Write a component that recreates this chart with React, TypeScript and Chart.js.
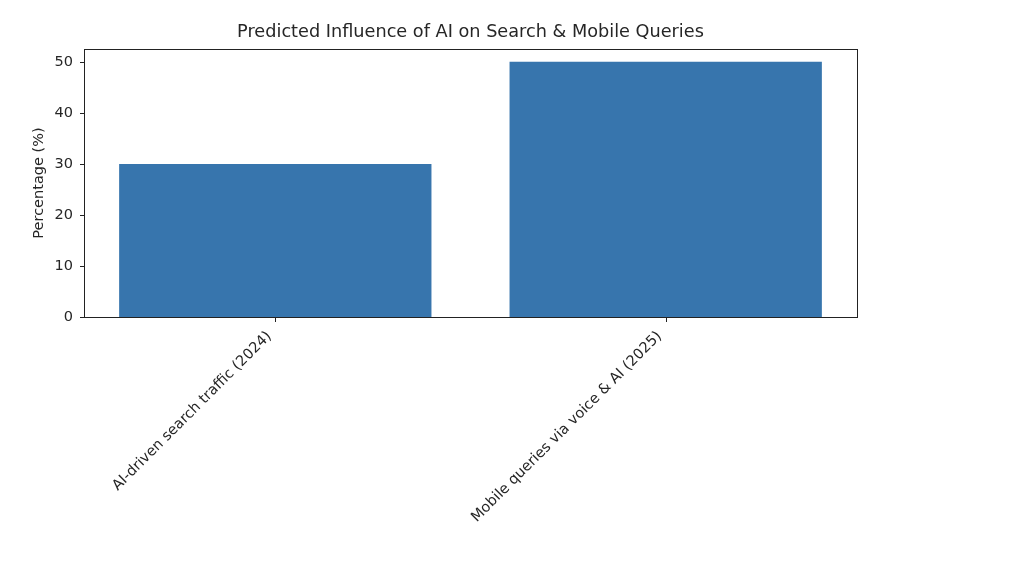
import React, { useEffect, useRef } from "react";
import { Chart, registerables } from "chart.js";

Chart.register(...registerables);

const categories = ["AI-driven search traffic (2024)", "Mobile queries via voice & AI (2025)"];
const values = [30, 50];
const yTicks = [0, 10, 20, 30, 40, 50];
const chartTitle = "Predicted Influence of AI on Search & Mobile Queries";
const yAxisTitle = "Percentage (%)";

const FONT = "'DejaVu Sans', sans-serif";
const TEXT = "#262626";

const framePlugin = {
  id: "frame",
  afterDatasetsDraw(chart: any) {
    const { ctx, chartArea, scales } = chart;
    const L = Math.round(chartArea.left) + 0.5;
    const T = Math.round(chartArea.top) + 0.5;
    const R = Math.round(chartArea.right) + 0.5;
    const B = Math.round(chartArea.bottom) + 0.5;
    ctx.save();
    ctx.strokeStyle = "#222";
    ctx.lineWidth = 1;
    ctx.strokeRect(L, T, R - L, B - T);
    ctx.beginPath();
    scales.x.ticks.forEach((t: any) => {
      const px = Math.round(scales.x.getPixelForValue(t.value)) + 0.5;
      ctx.moveTo(px, B);
      ctx.lineTo(px, B + 4.5);
    });
    scales.y.ticks.forEach((t: any) => {
      const py = Math.round(scales.y.getPixelForValue(t.value)) + 0.5;
      ctx.moveTo(L, py);
      ctx.lineTo(L - 4.5, py);
    });
    ctx.stroke();
    ctx.restore();
  },
};

export default function App() {
  const ref = useRef<HTMLCanvasElement>(null);

  useEffect(() => {
    if (!ref.current) return;
    const chart = new Chart(ref.current, {
      type: "bar",
      data: {
        datasets: [
          {
            data: values.map((v, i) => ({ x: i, y: v })),
            backgroundColor: "#3775ad",
            borderWidth: 0,
            barPercentage: 0.8,
            categoryPercentage: 1,
          },
        ],
      },
      options: {
        animation: false,
        responsive: true,
        maintainAspectRatio: false,
        layout: { padding: { left: 0, right: 167, top: 0, bottom: 0 } },
        plugins: {
          legend: { display: false },
          tooltip: { enabled: false },
          title: {
            display: true,
            text: chartTitle,
            fullSize: false,
            color: TEXT,
            font: { family: FONT, size: 17.7, weight: "normal" },
            padding: { top: 22, bottom: 5.8 },
          },
        },
        scales: {
          x: {
            type: "linear",
            min: -0.49,
            max: 1.49,
            offset: false,
            border: { display: false },
            grid: { display: false, offset: false, tickLength: 4 },
            afterBuildTicks: (scale: any) => {
              scale.ticks = categories.map((_, i) => ({ value: i }));
            },
            afterFit: (scale: any) => {
              scale.height = 251;
            },
            ticks: {
              autoSkip: false,
              minRotation: 45,
              maxRotation: 45,
              padding: 7,
              labelOffset: -6,
              color: TEXT,
              font: { family: FONT, size: 14.5 },
              callback: (v: any) => categories[Math.round(Number(v))] ?? "",
            },
          },
          y: {
            min: 0,
            max: 52.5,
            border: { display: false },
            grid: { display: false, tickLength: 4 },
            afterBuildTicks: (scale: any) => {
              scale.ticks = yTicks.map((v) => ({ value: v }));
            },
            afterFit: (scale: any) => {
              scale.width = 84;
            },
            ticks: {
              padding: 7,
              color: TEXT,
              font: { family: FONT, size: 14.5 },
              callback: (v: any) => String(v),
            },
            title: {
              display: true,
              text: yAxisTitle,
              color: TEXT,
              font: { family: FONT, size: 14.5 },
              padding: { top: 31, bottom: 0 },
            },
          },
        },
      },
      plugins: [framePlugin],
    });
    return () => chart.destroy();
  }, []);

  return (
    <div style={{ position: "absolute", left: 0, top: 0, width: 1024, height: 568, background: "#fff" }}>
      <canvas ref={ref} />
    </div>
  );
}
